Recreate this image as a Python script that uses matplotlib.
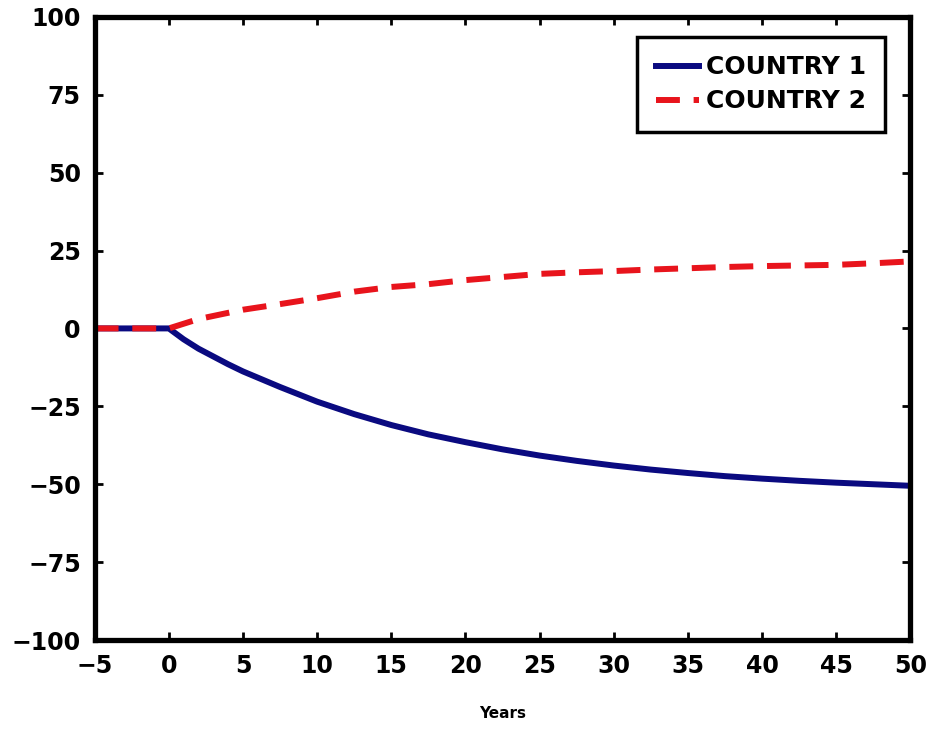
import matplotlib.pyplot as plt

# years after the shock and the response of each country (percent)
years = [-5, 0, 1, 2, 3, 4, 5, 7.5, 10, 12.5, 15, 17.5, 20, 22.5, 25,
         27.5, 30, 32.5, 35, 37.5, 40, 42.5, 45, 47.5, 50]
country1 = [0, 0, -3.5, -6.5, -9, -11.5, -13.8, -18.8, -23.5, -27.5, -31,
            -34, -36.5, -38.8, -40.8, -42.5, -44, -45.3, -46.4, -47.4,
            -48.2, -48.9, -49.5, -50.0, -50.5]
country2 = [0, 0, 1.5, 3, 4, 5, 6, 7.8, 9.7, 11.8, 13.3, 14.2, 15.5, 16.5,
            17.5, 18.0, 18.4, 18.9, 19.3, 19.7, 20, 20.2, 20.4, 20.9, 21.5]

xticks = [-5, 0, 5, 10, 15, 20, 25, 30, 35, 40, 45, 50]
yticks = [-100, -75, -50, -25, 0, 25, 50, 75, 100]

plt.rcParams['font.family'] = ['DejaVu Sans']
plt.rcParams['font.weight'] = 'bold'

fig = plt.figure(figsize=(9.28, 7.29), dpi=100)
ax = fig.add_axes([0.102, 0.122, 0.879, 0.855])

ax.plot(years, country1, color='#0a0a80', lw=4.3, label='COUNTRY 1')
ax.plot(years, country2, color='#e8141c', lw=4.3, ls=(0, (4.0, 2.3)),
        label='COUNTRY 2')

ax.set_xlim(-5, 50)
ax.set_ylim(-100, 100)
ax.set_xticks(xticks)
ax.set_yticks(yticks)
ax.set_yticklabels([str(t).replace('-', '\u2212') for t in yticks])
ax.set_xticklabels([str(t).replace('-', '\u2212') for t in xticks])
ax.tick_params(direction='in', length=6, width=2, labelsize=17,
               top=True, right=True, pad=10)
for s in ax.spines.values():
    s.set_linewidth(3.8)

ax.set_xlabel('Years', fontsize=11, fontweight='bold', labelpad=20)

leg = ax.legend(loc='upper right', bbox_to_anchor=(0.969, 0.968),
                fontsize=18, fancybox=False, framealpha=1,
                handlelength=1.7, handletextpad=0.3, borderpad=0.75,
                labelspacing=0.4, borderaxespad=0)
leg.get_frame().set_edgecolor('black')
leg.get_frame().set_linewidth(2.5)

fig.savefig('out.png', dpi=100)
